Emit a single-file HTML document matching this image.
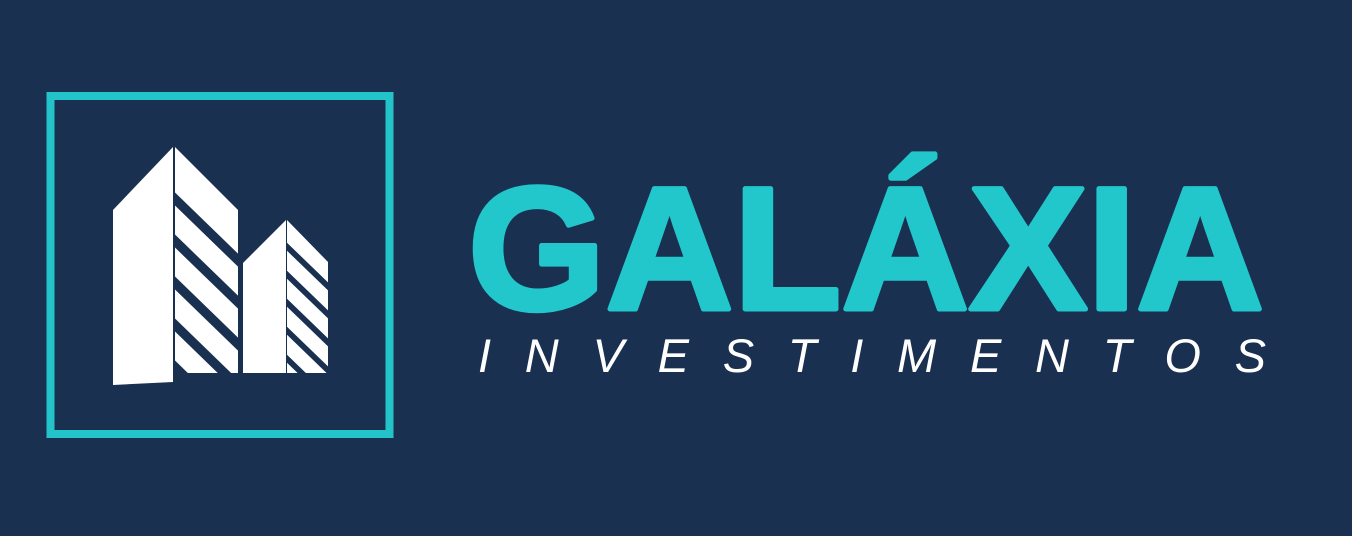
<!DOCTYPE html>
<html><head><meta charset="utf-8"><style>
html,body{margin:0;padding:0;background:#193050;}
svg{display:block}
</style></head><body>
<svg width="1352" height="536" viewBox="0 0 1352 536">
<rect x="0" y="0" width="1352" height="536" fill="#193050"/>
<rect x="50.5" y="96" width="339" height="338" fill="none" stroke="#22C4C9" stroke-width="8"/>
<defs>
<clipPath id="bigR"><polygon points="175,147 238,210 238,373 175,373"/></clipPath>
<clipPath id="smallR"><polygon points="287,220 328,262 328,373 287,373"/></clipPath>
</defs>
<g>
<polygon points="113,210 173,147 173,382 113,385" fill="#fff"/>
<polygon points="175,147 238,210 238,373 175,373" fill="#fff"/>
<g clip-path="url(#bigR)" fill="#193050">
<polygon points="160,178 260,275 260,288 160,191"/>
<polygon points="160,220 260,317 260,330 160,233"/>
<polygon points="160,262 260,359 260,372 160,275"/>
<polygon points="160,304 260,401 260,414 160,317"/>
<polygon points="160,346 260,443 260,456 160,359"/>
</g>
</g>
<g>
<polygon points="243,263 286,220 286,373 243,373" fill="#fff"/>
<polygon points="287,220 328,262 328,373 287,373" fill="#fff"/>
<g clip-path="url(#smallR)" fill="#193050">
<polygon points="280,236 340,294 340,302 280,244"/>
<polygon points="280,264 340,322 340,330 280,272"/>
<polygon points="280,292 340,350 340,358 280,300"/>
<polygon points="280,320 340,378 340,386 280,328"/>
<polygon points="280,348 340,406 340,414 280,356"/>
</g>
</g>
<text x="468" y="309" textLength="796" lengthAdjust="spacingAndGlyphs" font-family="Liberation Sans, sans-serif" font-weight="bold" font-size="175" fill="#22C7CB" stroke="#22C7CB" stroke-width="5" stroke-linejoin="round">GALÁXIA</text>
<text x="478" y="372" textLength="788" lengthAdjust="spacing" font-family="Liberation Sans, sans-serif" font-style="italic" font-size="47" fill="#ffffff">INVESTIMENTOS</text>
</svg>
</body></html>
